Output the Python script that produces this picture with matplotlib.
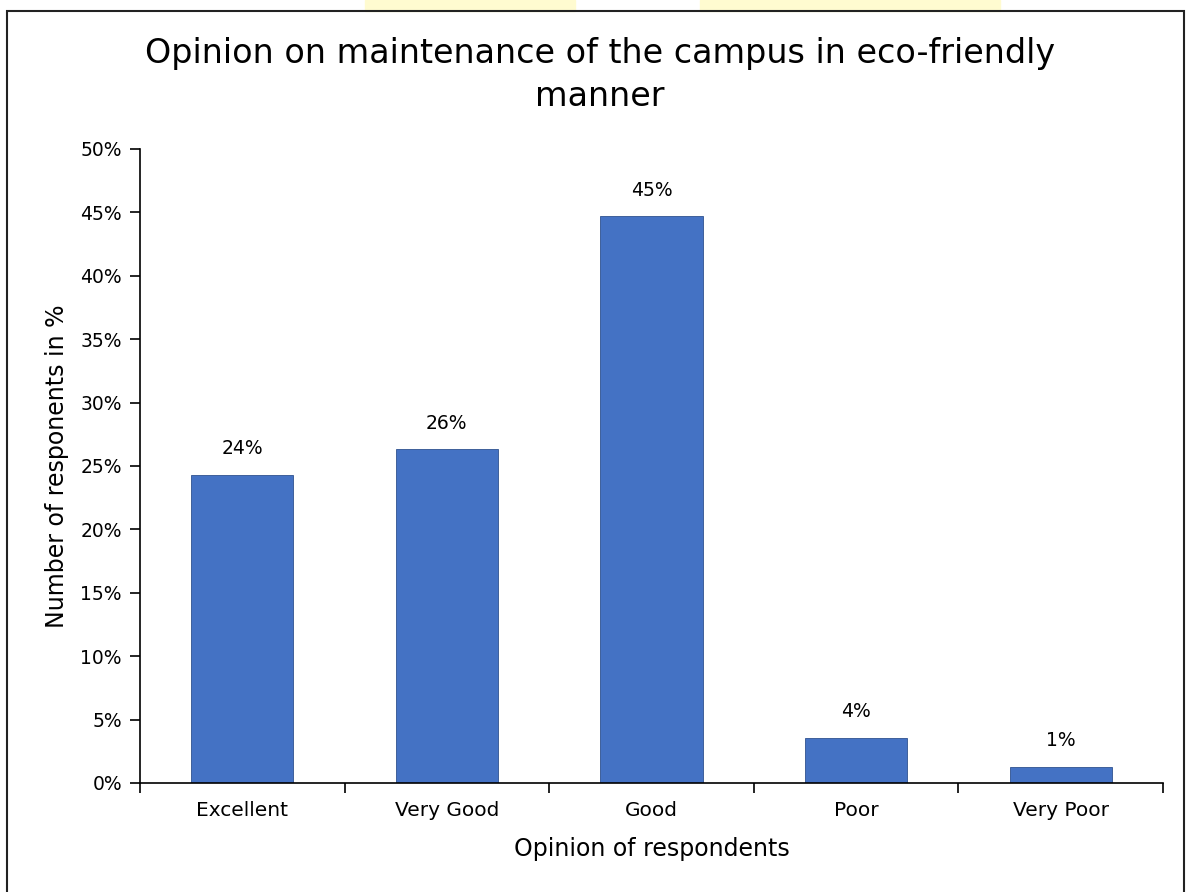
import matplotlib.pyplot as plt
from matplotlib.patches import Rectangle
from matplotlib.ticker import FuncFormatter, FixedLocator

categories = ["Excellent", "Very Good", "Good", "Poor", "Very Poor"]
values = [24.3, 26.3, 44.7, 3.55, 1.25]
labels = ["24%", "26%", "45%", "4%", "1%"]

plt.rcParams['font.family'] = ['DejaVu Sans']

fig = plt.figure(figsize=(11.86, 8.92), dpi=100)
ax = fig.add_axes([0.118, 0.1222, 0.8626, 0.7108])

# faint watermark strips at the very top
fig.patches.append(Rectangle((365 / 1186, 1 - 11 / 892), 210 / 1186, 11 / 892,
                             transform=fig.transFigure, color='#fffbd0', zorder=0))
fig.patches.append(Rectangle((700 / 1186, 1 - 11 / 892), 300 / 1186, 11 / 892,
                             transform=fig.transFigure, color='#fffbd0', zorder=0))
# frame round the chart
fig.patches.append(Rectangle((7 / 1186, -0.05), 1177 / 1186, 1.05 - 11 / 892,
                             transform=fig.transFigure, fill=False,
                             edgecolor='#222222', linewidth=1.5, zorder=1))

x = list(range(len(categories)))
bars = ax.bar(x, values, width=0.5, color='#4472C4', edgecolor='#2F528F', linewidth=0.6)
for b, lab in zip(bars, labels):
    ax.annotate(lab, (b.get_x() + b.get_width() / 2, b.get_height()),
                xytext=(0, 12), textcoords='offset points',
                ha='center', va='bottom', fontsize=13.5)

ax.set_xlim(-0.5, len(categories) - 0.5)
ax.set_ylim(0, 50)
ax.set_yticks(range(0, 51, 5))
ax.yaxis.set_major_formatter(FuncFormatter(lambda v, p: f"{int(v)}%"))
ax.set_xticks(x)
ax.set_xticklabels(categories, fontsize=14.5)
ax.xaxis.set_minor_locator(FixedLocator([i - 0.5 for i in range(len(categories) + 1)]))
ax.tick_params(axis='x', which='major', length=0, pad=13)
ax.tick_params(axis='x', which='minor', length=7, width=1.2, direction='out')
ax.tick_params(axis='y', length=7, width=1.2, labelsize=13.5, pad=6)

for s in ['top', 'right']:
    ax.spines[s].set_visible(False)
for s in ['left', 'bottom']:
    ax.spines[s].set_linewidth(1.2)

ax.set_xlabel("Opinion of respondents", fontsize=17, labelpad=12)
ax.set_ylabel("Number of responents in %", fontsize=17, labelpad=8)

fig.text(0.506, 1 - 75 / 892, "Opinion on maintenance of the campus in eco-friendly\nmanner",
         ha='center', va='center', fontsize=24, linespacing=1.35)

fig.savefig("out.png", dpi=100)
